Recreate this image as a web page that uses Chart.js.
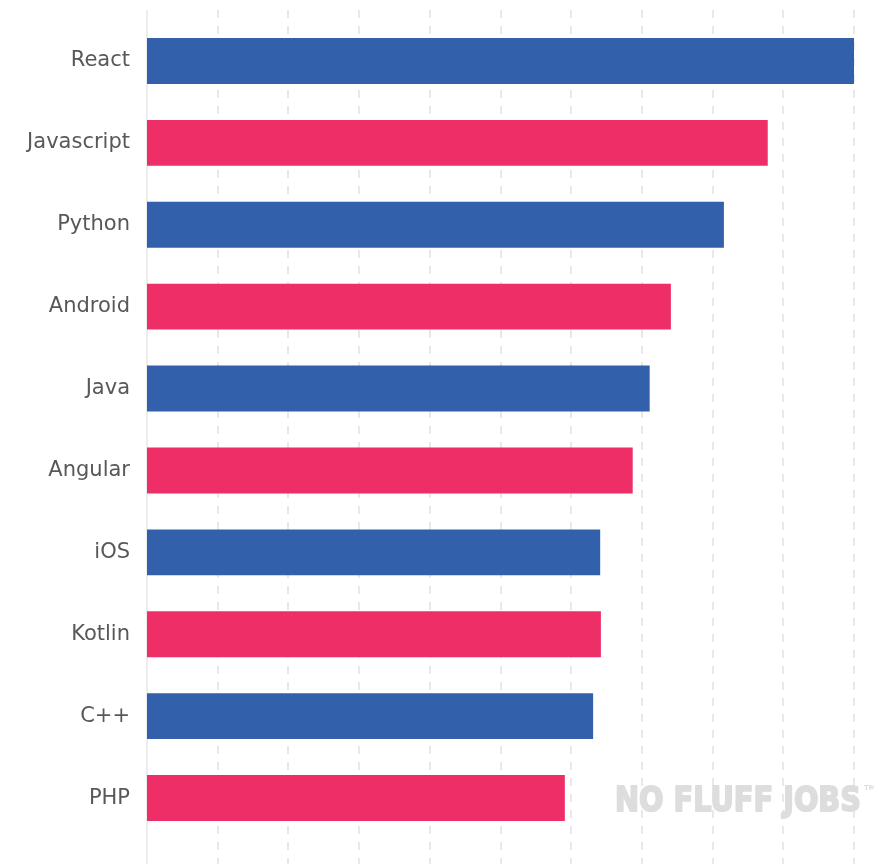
<!DOCTYPE html>
<html>
<head>
<meta charset="utf-8">
<script src="https://cdn.jsdelivr.net/npm/chart.js@4.4.1/dist/chart.umd.min.js"></script>
<style>
  html, body { margin: 0; padding: 0; background: #fff; }
  #wrap { width: 874px; height: 864px; }
</style>
</head>
<body>
<div id="wrap"><canvas id="chart" width="874" height="864"></canvas></div>
<script>
// Data (scale 0-100, React = top)
const categories = ['React', 'Javascript', 'Python', 'Android', 'Java', 'Angular', 'iOS', 'Kotlin', 'C++', 'PHP'];
const values = [100, 87.8, 81.6, 74.1, 71.1, 68.7, 64.1, 64.2, 63.1, 59.1];
const xTicks = [0, 10, 20, 30, 40, 50, 60, 70, 80, 90, 100];

const blue = '#3360AA';
const pink = '#EE2E66';
const barColors = categories.map((c, i) => i % 2 === 0 ? blue : pink);

// Vertical grid lines that run past the plot area, like in the original
const gridPlugin = {
    id: 'tallGrid',
    beforeDatasetsDraw(chart) {
        const ctx = chart.ctx;
        const x = chart.scales.x;
        ctx.save();
        ctx.lineWidth = 2;
        xTicks.forEach((t, i) => {
            const px = Math.round(x.getPixelForValue(t));
            ctx.beginPath();
            if (i === 0) {
                ctx.strokeStyle = '#ededed';
                ctx.setLineDash([]);
            } else {
                ctx.strokeStyle = '#e8e8e8';
                ctx.setLineDash([8, 8]);
            }
            ctx.moveTo(px, 10);
            ctx.lineTo(px, 864);
            ctx.stroke();
        });
        ctx.restore();
    }
};

// Light watermark bottom right
const watermarkPlugin = {
    id: 'watermark',
    afterDatasetsDraw(chart) {
        const ctx = chart.ctx;
        const area = chart.chartArea;
        ctx.save();
        ctx.fillStyle = '#dddddd';
        ctx.strokeStyle = '#dddddd';
        ctx.lineWidth = 2;
        ctx.lineJoin = 'round';
        ctx.font = 'bold 34px "DejaVu Sans"';
        ctx.textAlign = 'right';
        ctx.textBaseline = 'alphabetic';
        ctx.strokeText('NO FLUFF JOBS', area.right + 7, 811, 246);
        ctx.fillText('NO FLUFF JOBS', area.right + 7, 811, 246);
        ctx.font = 'bold 7px "DejaVu Sans"';
        ctx.textAlign = 'left';
        ctx.fillText('TM', area.right + 10, 790);
        ctx.restore();
    }
};

new Chart(document.getElementById('chart'), {
    type: 'bar',
    data: {
        labels: categories,
        datasets: [{
            data: values,
            backgroundColor: barColors,
            borderWidth: 0,
            categoryPercentage: 1,
            barPercentage: 0.56
        }]
    },
    options: {
        indexAxis: 'y',
        responsive: false,
        maintainAspectRatio: false,
        animation: false,
        events: [],
        layout: {
            padding: { top: 20, bottom: 25, right: 20, left: 0 }
        },
        plugins: {
            legend: { display: false },
            tooltip: { enabled: false }
        },
        scales: {
            x: {
                min: 0,
                max: 100,
                display: false,
                grid: { display: false }
            },
            y: {
                grid: { display: false, drawTicks: false },
                border: { display: false },
                ticks: {
                    color: '#585858',
                    padding: 17,
                    font: { family: '"DejaVu Sans"', size: 21 }
                },
                afterFit(scale) {
                    scale.width = 147;
                    scale.paddingTop = 0;
                    scale.paddingBottom = 0;
                }
            }
        }
    },
    plugins: [gridPlugin, watermarkPlugin]
});
</script>
</body>
</html>
